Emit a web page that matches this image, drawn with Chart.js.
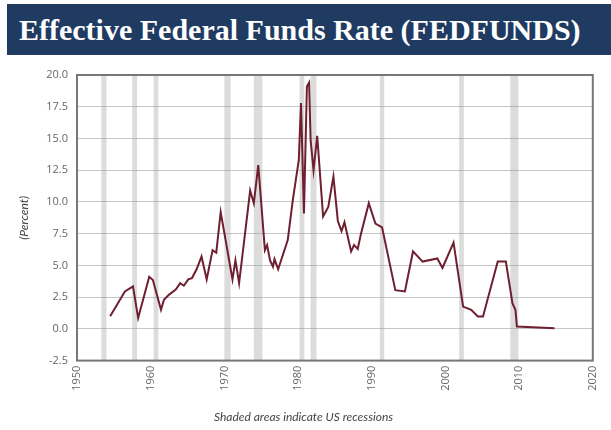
<!DOCTYPE html>
<html><head><meta charset="utf-8">
<script src="https://cdn.jsdelivr.net/npm/chart.js@4/dist/chart.umd.min.js"></script>
<style>
html,body{margin:0;padding:0;background:#fff;width:611px;height:430px;overflow:hidden}
#wrap{position:absolute;left:0;top:0;width:611px;height:430px}
#banner{position:absolute;left:7px;top:4px;width:604px;height:51px;background:#1f3b62;color:#fff;font-family:"Liberation Serif",serif;font-weight:bold;font-size:30px;line-height:51px;padding-left:12px;box-sizing:border-box;white-space:nowrap}
</style></head><body>
<div id="wrap"><canvas id="c" width="611" height="430"></canvas></div>
<div id="banner">Effective Federal Funds Rate (FEDFUNDS)</div>
<script>
const years = [1954.5,1956.5,1957.6,1958.3,1959.8,1960.3,1961.4,1961.8,1962.5,1963.4,1964.0,1964.5,1965.1,1965.6,1966.2,1966.9,1967.6,1968.4,1968.9,1969.5,1971.1,1971.5,1972.0,1973.5,1974.0,1974.6,1975.5,1975.8,1976.2,1976.6,1976.8,1977.3,1978.6,1979.3,1980.1,1980.4,1980.8,1981.2,1981.5,1981.7,1982.1,1982.6,1983.4,1984.1,1984.8,1985.4,1985.9,1986.3,1987.2,1987.6,1988.1,1988.5,1989.6,1990.5,1991.4,1993.2,1994.5,1995.6,1996.9,1998.9,1999.6,2001.1,2002.4,2003.5,2004.4,2005.1,2007.1,2008.2,2009.1,2009.5,2009.7,2014.8];
const rates = [1.0,2.95,3.35,0.85,4.1,3.85,1.5,2.3,2.7,3.1,3.6,3.4,3.9,4.0,4.65,5.7,3.9,6.2,6.0,9.2,3.9,5.4,3.6,10.9,9.9,12.9,6.2,6.6,5.4,4.9,5.5,4.7,7.0,10.2,13.3,17.8,9.1,19.1,19.4,14.9,12.5,15.2,8.85,9.6,12.0,8.5,7.7,8.4,6.1,6.6,6.3,7.4,9.9,8.3,8.0,3.05,2.95,6.1,5.3,5.55,4.8,6.8,1.75,1.5,0.97,0.97,5.3,5.3,2.0,1.5,0.18,0.05];
const recessionStart = [1953.3,1957.5,1960.4,1970.0,1974.0,1980.2,1981.7,1991.1,2001.85,2008.8];
const recessionEnd   = [1954.0,1958.15,1961.05,1970.85,1975.15,1980.85,1982.5,1991.7,2002.5,2009.9];
const xTicks = [1950,1960,1970,1980,1990,2000,2010,2020];
const yTicks = [-2.5,0,2.5,5,7.5,10,12.5,15,17.5,20];

const points = years.map((y,i)=>({x:y, y:rates[i]}));

const recessionPlugin = {
  id:'recessions',
  beforeDatasetsDraw(chart){
    const {ctx, chartArea:a, scales:{x}} = chart;
    ctx.save();
    ctx.fillStyle = 'rgba(150,150,150,0.33)';
    recessionStart.forEach((s,i)=>{
      const x0 = x.getPixelForValue(s), x1 = x.getPixelForValue(recessionEnd[i]);
      ctx.fillRect(x0, a.top, x1-x0, a.bottom-a.top);
    });
    ctx.restore();
  }
};
const framePlugin = {
  id:'frame',
  afterDatasetsDraw(chart){
    const {ctx, chartArea:a} = chart;
    ctx.save();
    ctx.strokeStyle = '#777';
    ctx.lineWidth = 2;
    ctx.strokeRect(a.left, a.top, a.right-a.left, a.bottom-a.top);
    ctx.restore();
  }
};

new Chart(document.getElementById('c'), {
  type:'line',
  data:{datasets:[{data:points, borderColor:'#6e1f30', borderWidth:2, pointRadius:0, tension:0, fill:false}]},
  options:{
    responsive:false, animation:false, devicePixelRatio:1,
    layout:{padding:{top:75,left:0,right:4,bottom:0}},
    plugins:{
      legend:{display:false}, tooltip:{enabled:false},
      title:{display:true, position:'bottom', text:'Shaded areas indicate US recessions',
        font:{family:'Lato', style:'italic', weight:'normal', size:12}, color:'#444', padding:{top:4,bottom:6}}
    },
    scales:{
      x:{type:'linear', min:1950, max:2020,
        afterBuildTicks(s){ s.ticks = xTicks.map(v=>({value:v})); },
        afterFit(s){ s.height = 45; },
        grid:{display:false, drawTicks:false}, border:{display:false},
        ticks:{minRotation:90, maxRotation:90, padding:5, color:'#666',
          font:{family:'Open Sans', size:11}, callback:v=>String(v)}
      },
      y:{min:-2.5, max:20,
        afterBuildTicks(s){ s.ticks = yTicks.map(v=>({value:v})); },
        afterFit(s){ s.width = 77; },
        grid:{color:'#c6c6c6', lineWidth:1, drawTicks:false}, border:{display:false},
        ticks:{padding:9, color:'#666', font:{family:'Open Sans', size:11}, callback:v=>Number(v).toFixed(1)},
        title:{display:true, text:'(Percent)', color:'#444', font:{family:'Lato', style:'italic', weight:'normal', size:12}, padding:{top:17,bottom:0}}
      }
    }
  },
  plugins:[recessionPlugin, framePlugin]
});
</script>
</body></html>
